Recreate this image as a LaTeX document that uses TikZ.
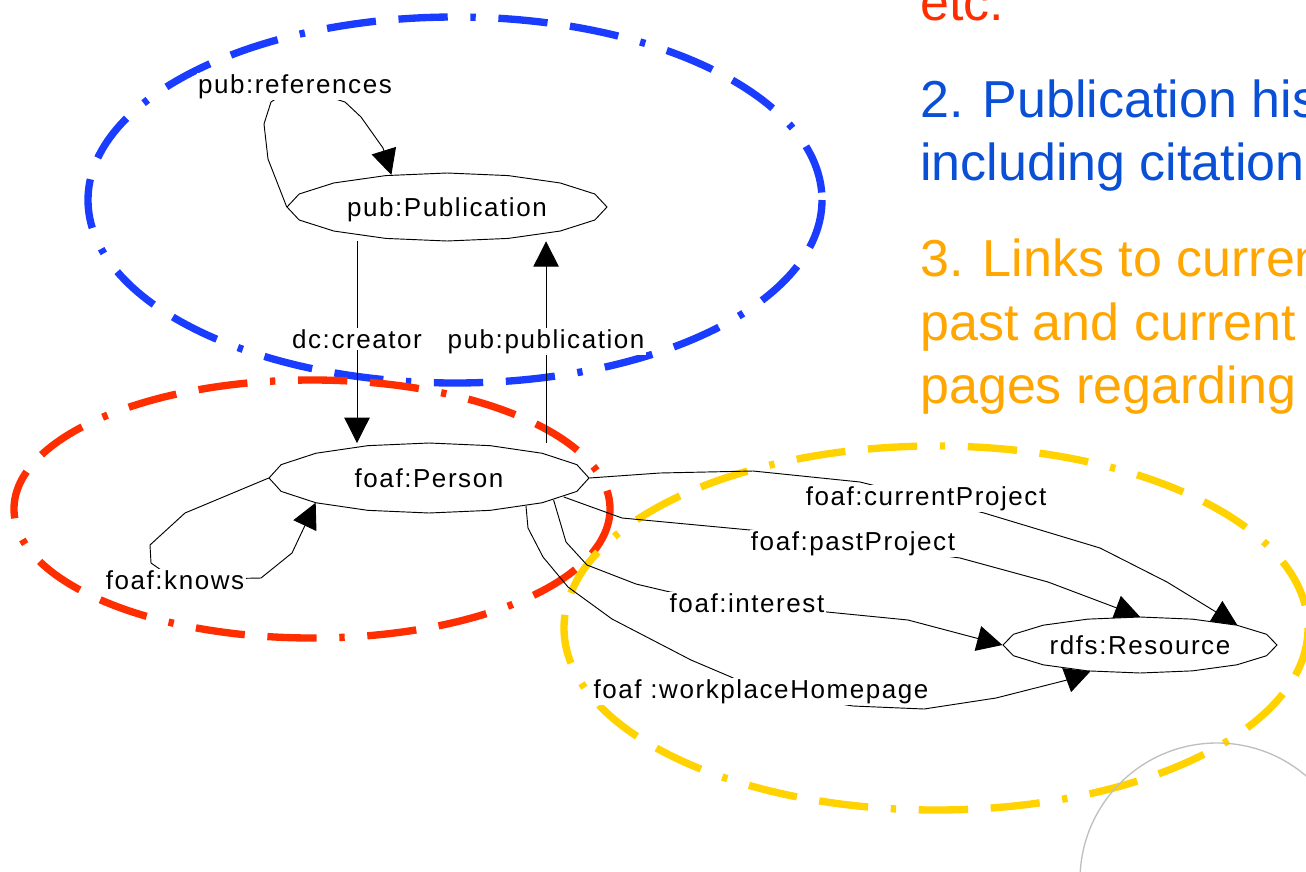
\documentclass[tikz,border=0pt]{standalone}
\usepackage{fontspec}
\setmainfont{Liberation Sans}
\newfontfamily\lblfont[LetterSpace=6]{Liberation Sans}
\usetikzlibrary{positioning, calc, arrows.meta, shapes.geometric, backgrounds}
\definecolor{pubblue}{HTML}{1A3CFF}
\definecolor{foafred}{HTML}{FF2E00}
\definecolor{projyellow}{HTML}{FFD200}
\definecolor{textblue}{HTML}{0A50D6}
\definecolor{textorange}{HTML}{FFA600}
\tikzset{grp/.style={line width=5.5pt, dash pattern=on 37pt off 17pt on 37pt off 17pt on 4pt off 17pt}}
\tikzset{cls/.style={ellipse, inner sep=0pt, text height=14pt, text depth=0pt, font=\lblfont\fontsize{19.5}{22}\selectfont}}
\tikzset{prop/.style={inner sep=1pt, fill=white, font=\lblfont\fontsize{19.5}{22}\selectfont}}
\tikzset{rel/.style={draw, line width=0.7pt}}
\tikzset{relarr/.style={rel, -{Triangle[length=19pt, width=19pt]}}}
\tikzset{note/.style={anchor=base west, inner sep=0pt, font=\fontsize{39}{47}\selectfont}}
% 16-gon drawn round a class node: name, x radius, y radius
\newcommand\polyell[3]{
		\filldraw[rel, fill=white] ($(#1.center)+(#2,0)$)
			\foreach \a in {22.5,45,...,337.5}{ -- ($(#1.center)+({#2*cos(\a)},{#3*sin(\a)})$)} -- cycle;
		}

\begin{document}
\begin{tikzpicture}[x=0.75pt, y=-0.75pt]
	\useasboundingbox (0,0) rectangle (1306,871);
	\clip (0,0) rectangle (1306,871);

	% classes
	\node[cls, minimum width=240pt, minimum height=51pt] (Pub) at (447,207) {pub:Publication};
	\node[cls, minimum width=240pt, minimum height=52pt] (Person) at (429,478) {foaf:Person};
	\node[cls, minimum width=206pt, minimum height=42pt] (Res) at (1140,645) {rdfs:Resource};

	% properties
	\node[prop, anchor=base] (lref) at (295,93) {pub:references};
	\node[prop, anchor=base] (lcre) at (357,348) {dc:creator};
	\node[prop, base right=17pt of lcre] (lpub) {pub:publication};
	\node[prop, anchor=base] (lkno) at (175,589) {foaf:knows};
	\node[prop, anchor=base] (lcur) at (926,505) {foaf:currentProject};
	\node[prop, anchor=base] (lpas) at (853,550) {foaf:pastProject};
	\node[prop, anchor=base] (lint) at (747,612) {foaf:interest};
	\node[prop, anchor=base] (lwor) at (761,698) {foaf :workplaceHomepage};

	\foreach \yy/\col/\txt in {20/foafred/etc., 117/textblue/2. Publication his, 180/textblue/including citation,
			276/textorange/3. Links to curren, 340/textorange/past and current, 403/textorange/pages regarding}
		\node[note, text=\col] (note\yy) at (920,\yy) {\txt};

	\begin{scope}[on background layer]
		\draw[grp, pubblue] (455,200) ellipse [x radius=367, y radius=183];
		\draw[grp, foafred] (312,509) ellipse [x radius=298, y radius=129];
		\draw[grp, projyellow] (936,628) ellipse [x radius=372, y radius=182];
		\draw[black!25, line width=1pt] (1217,880) circle [radius=137];

		\draw[relarr] (Pub.west) -- (268,159) -- (264,124) -- (271,102) -- (lref.center)
			-- (345,102) -- (361,117) -- (383,148) -- (Pub.150);
		\draw[relarr] (lcre |- Pub.south) -- (lcre |- Person.north);
		\draw[relarr] (lpub |- Person.north) -- (lpub |- Pub.south);
		\draw[relarr] (Person.west) -- (185,513) -- (150,545) -- (151,563) -- (lkno.center)
			-- (261,578) -- (292,553) -- (Person.south west);
		\draw[relarr] (Person.east) -- (660,473) -- (753,471) -- (860,482) -- (lcur.center)
			-- (984,513) -- (1100,548) -- (1167,582) -- (Res.north east);
		\draw[relarr] (Person.-8) -- (622,518) -- (750,530) -- (lpas.center)
			-- (960,558) -- (1048,582) -- (Res.north);
		\draw[relarr] (Person.-10) -- (566,542) -- (587,565) -- (636,584) -- (670,592) -- (lint.center)
			-- (827,612) -- (908,620) -- (Res.west);
		\draw[relarr] (Person.-16) -- (528,528) -- (543,557) -- (568,587) -- (612,619) -- (691,660)
			-- (731,677) -- (lwor.center) -- (853,706) -- (924,709) -- (996,698) -- (1067,680) -- (Res.-152);

		\polyell{Pub}{160}{34}
		\polyell{Person}{160}{35}
		\polyell{Res}{137}{28}
	\end{scope}
\end{tikzpicture}
\end{document}
